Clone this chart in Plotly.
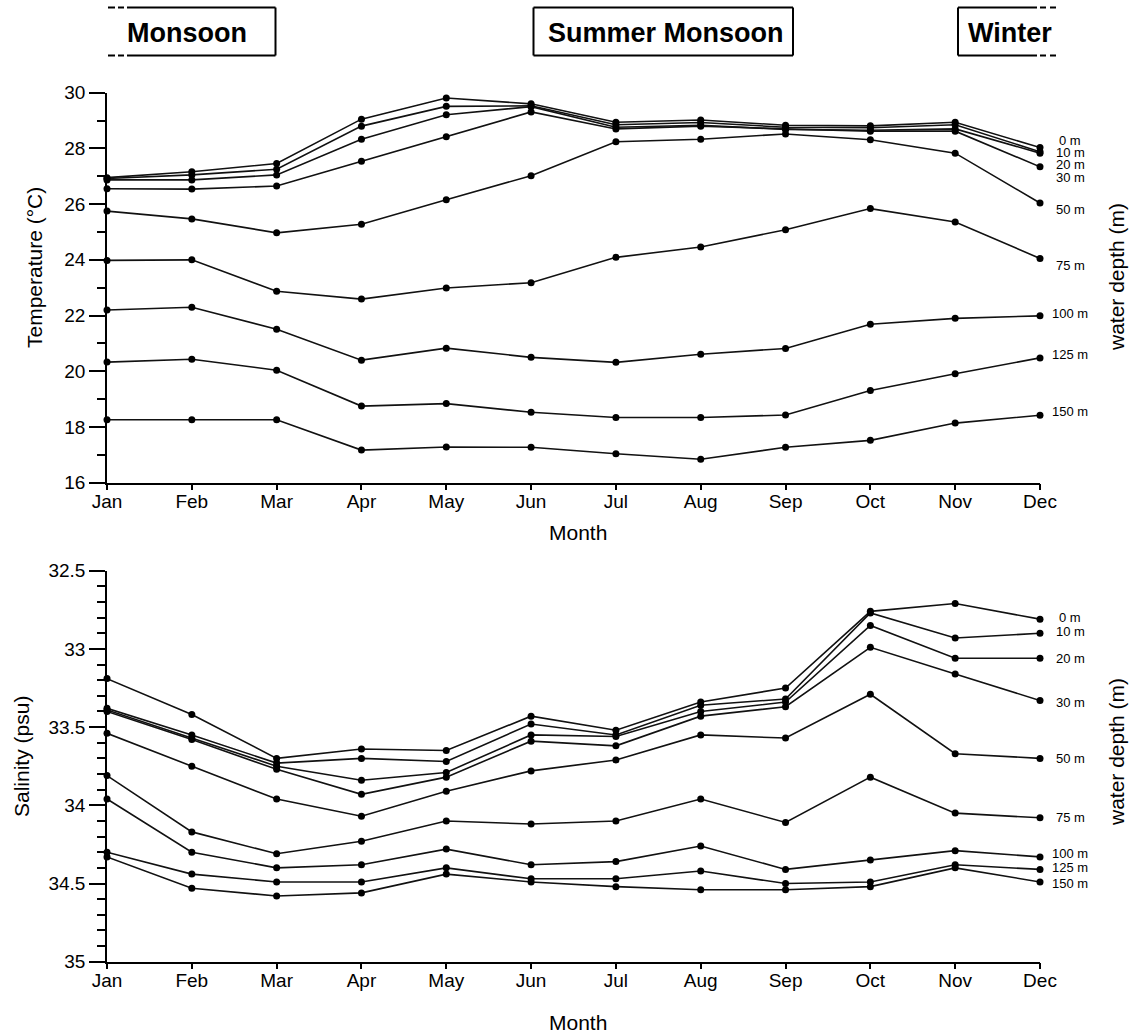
import plotly.graph_objects as go

W, H = 1130, 1033

months = ["Jan", "Feb", "Mar", "Apr", "May", "Jun", "Jul", "Aug", "Sep", "Oct", "Nov", "Dec"]
depths = ["0 m", "10 m", "20 m", "30 m", "50 m", "75 m", "100 m", "125 m", "150 m"]

# Temperature (°C) per depth
temp_0 = [26.95, 27.16, 27.46, 29.05, 29.81, 29.60, 28.94, 29.02, 28.83, 28.81, 28.94, 28.03]
temp_10 = [26.92, 27.05, 27.25, 28.80, 29.51, 29.53, 28.85, 28.93, 28.76, 28.74, 28.85, 27.88]
temp_20 = [26.87, 26.87, 27.05, 28.33, 29.21, 29.50, 28.76, 28.83, 28.68, 28.65, 28.70, 27.83]
temp_30 = [26.55, 26.54, 26.65, 27.54, 28.42, 29.31, 28.70, 28.80, 28.70, 28.62, 28.62, 27.34]
temp_50 = [25.75, 25.47, 24.97, 25.28, 26.16, 27.02, 28.24, 28.33, 28.52, 28.31, 27.83, 26.04]
temp_75 = [23.98, 24.00, 22.87, 22.59, 22.99, 23.18, 24.09, 24.46, 25.08, 25.84, 25.36, 24.05]
temp_100 = [22.20, 22.30, 21.51, 20.40, 20.83, 20.50, 20.32, 20.61, 20.82, 21.69, 21.90, 21.99]
temp_125 = [20.33, 20.43, 20.04, 18.75, 18.84, 18.53, 18.34, 18.34, 18.43, 19.31, 19.91, 20.48]
temp_150 = [18.26, 18.26, 18.26, 17.17, 17.28, 17.27, 17.04, 16.84, 17.27, 17.52, 18.14, 18.42]

# Salinity (psu) per depth
sal_0 = [33.19, 33.42, 33.70, 33.64, 33.65, 33.43, 33.52, 33.34, 33.25, 32.76, 32.71, 32.81]
sal_10 = [33.38, 33.55, 33.73, 33.70, 33.72, 33.48, 33.55, 33.36, 33.32, 32.77, 32.93, 32.90]
sal_20 = [33.39, 33.57, 33.75, 33.84, 33.79, 33.55, 33.56, 33.40, 33.34, 32.85, 33.06, 33.06]
sal_30 = [33.40, 33.58, 33.77, 33.93, 33.82, 33.59, 33.62, 33.43, 33.37, 32.99, 33.16, 33.33]
sal_50 = [33.54, 33.75, 33.96, 34.07, 33.91, 33.78, 33.71, 33.55, 33.57, 33.29, 33.67, 33.70]
sal_75 = [33.81, 34.17, 34.31, 34.23, 34.10, 34.12, 34.10, 33.96, 34.11, 33.82, 34.05, 34.08]
sal_100 = [33.96, 34.30, 34.40, 34.38, 34.28, 34.38, 34.36, 34.26, 34.41, 34.35, 34.29, 34.33]
sal_125 = [34.30, 34.44, 34.49, 34.49, 34.40, 34.47, 34.47, 34.42, 34.50, 34.49, 34.38, 34.41]
sal_150 = [34.33, 34.53, 34.58, 34.56, 34.44, 34.49, 34.52, 34.54, 34.54, 34.52, 34.40, 34.49]

temp_series = [temp_0, temp_10, temp_20, temp_30, temp_50, temp_75, temp_100, temp_125, temp_150]
sal_series = [sal_0, sal_10, sal_20, sal_30, sal_50, sal_75, sal_100, sal_125, sal_150]

temp_ticks = [16, 18, 20, 22, 24, 26, 28, 30]
sal_ticks = [32.5, 33, 33.5, 34, 34.5, 35]
sal_ticktext = ["32.5", "33", "33.5", "34", "34.5", "35"]

# label anchor positions (layout, in axis units) for depth labels
temp_label_y = [28.27, 27.87, 27.44, 26.97, 25.79, 23.78, 22.06, 20.59, 18.54]
sal_label_y = [32.80, 32.89, 33.06, 33.34, 33.70, 34.08, 34.31, 34.40, 34.50]

FONT = "Liberation Sans, Arial, Helvetica, sans-serif"


def fx(x):
    return x / W


def fy(y):
    return 1 - y / H


x_dom = [fx(107), fx(1040)]
top_dom = [fy(482.7), fy(92.7)]
bot_dom = [fy(961.7), fy(570.7)]

fig = go.Figure()
xidx = list(range(len(months)))

for name, vals in zip(depths, temp_series):
    fig.add_trace(go.Scatter(x=xidx, y=vals, mode="lines+markers", name=name,
                             line=dict(color="#111", width=1.6),
                             marker=dict(color="#000", size=7),
                             cliponaxis=False, xaxis="x", yaxis="y", showlegend=False))
for name, vals in zip(depths, sal_series):
    fig.add_trace(go.Scatter(x=xidx, y=vals, mode="lines+markers", name=name,
                             line=dict(color="#111", width=1.6),
                             marker=dict(color="#000", size=7),
                             cliponaxis=False, xaxis="x2", yaxis="y2", showlegend=False))

axis_common = dict(showline=True, linecolor="black", linewidth=1.5, showgrid=False,
                   zeroline=False, ticks="outside", tickcolor="black", tickwidth=1.5,
                   automargin=False,
                   tickfont=dict(family=FONT, size=19, color="black"))

xcommon = dict(axis_common, range=[0, 11], tickvals=xidx, ticktext=months, ticklen=6,
               ticklabelstandoff=-5)

fig.update_layout(
    width=W, height=H,
    margin=dict(l=0, r=0, t=0, b=0, pad=0, autoexpand=False),
    paper_bgcolor="white", plot_bgcolor="white",
    showlegend=False,
    font=dict(family=FONT, color="black"),
    xaxis=dict(xcommon, domain=x_dom, anchor="y"),
    yaxis=dict(axis_common, domain=top_dom, anchor="x", range=[16, 30],
               tickvals=temp_ticks, ticklen=16,
               minor=dict(dtick=1, tick0=16, ticks="outside", ticklen=8, tickcolor="black", tickwidth=1.5)),
    xaxis2=dict(xcommon, domain=x_dom, anchor="y2"),
    yaxis2=dict(axis_common, domain=bot_dom, anchor="x2", range=[35, 32.5],
                tickvals=sal_ticks, ticktext=sal_ticktext, ticklen=16,
                minor=dict(dtick=0.1, tick0=32.5, ticks="outside", ticklen=8, tickcolor="black", tickwidth=1.5)),
)

ann = []
# axis titles
ann.append(dict(text="Month", x=fx(578), y=fy(532), xref="paper", yref="paper", showarrow=False,
                font=dict(size=21), xanchor="center", yanchor="middle"))
ann.append(dict(text="Month", x=fx(578), y=fy(1022), xref="paper", yref="paper", showarrow=False,
                font=dict(size=21), xanchor="center", yanchor="middle"))
ann.append(dict(text="Temperature (°C)", x=fx(34), y=fy(268), xref="paper", yref="paper", showarrow=False,
                font=dict(size=21), textangle=-90, xanchor="center", yanchor="middle"))
ann.append(dict(text="Salinity (psu)", x=fx(21), y=fy(757), xref="paper", yref="paper", showarrow=False,
                font=dict(size=21), textangle=-90, xanchor="center", yanchor="middle"))
ann.append(dict(text="water depth (m)", x=fx(1116), y=fy(277), xref="paper", yref="paper", showarrow=False,
                font=dict(size=21), textangle=-90, xanchor="center", yanchor="middle"))
ann.append(dict(text="water depth (m)", x=fx(1116), y=fy(752), xref="paper", yref="paper", showarrow=False,
                font=dict(size=21), textangle=-90, xanchor="center", yanchor="middle"))

for name, ly in zip(depths, temp_label_y):
    ann.append(dict(text=name, x=fx(1070), y=ly, xref="paper", yref="y", showarrow=False,
                    font=dict(size=13), xanchor="center", yanchor="middle"))
for name, ly in zip(depths, sal_label_y):
    ann.append(dict(text=name, x=fx(1070), y=ly, xref="paper", yref="y2", showarrow=False,
                    font=dict(size=13), xanchor="center", yanchor="middle"))

# season labels
for txt, cx in [("Monsoon", 187), ("Summer Monsoon", 666), ("Winter", 1010)]:
    ann.append(dict(text="<b>" + txt + "</b>", x=fx(cx), y=fy(33), xref="paper", yref="paper",
                    showarrow=False, font=dict(size=27), xanchor="center", yanchor="middle"))

fig.update_layout(annotations=ann)

shapes = []


def seg(x0, y0, x1, y1, w=2):
    shapes.append(dict(type="line", xref="paper", yref="paper", x0=fx(x0), y0=fy(y0),
                       x1=fx(x1), y1=fy(y1), line=dict(color="black", width=w)))


top_y, bot_y = 7.5, 55.5
# Monsoon box (open on left with dashes)
for yy in (top_y, bot_y):
    seg(108, yy, 115, yy)
    seg(118, yy, 124, yy)
    seg(127, yy, 275.5, yy)
seg(275.5, top_y, 275.5, bot_y)
# Summer Monsoon box
seg(533.5, top_y, 793, top_y)
seg(533.5, bot_y, 793, bot_y)
seg(533.5, top_y, 533.5, bot_y)
seg(793, top_y, 793, bot_y)
# Winter box (open on right with dashes)
for yy in (top_y, bot_y):
    seg(958, yy, 1037, yy)
    seg(1040, yy, 1046, yy)
    seg(1050, yy, 1056, yy)
seg(958, top_y, 958, bot_y)

fig.update_layout(shapes=shapes)

fig.write_html("out.html")
